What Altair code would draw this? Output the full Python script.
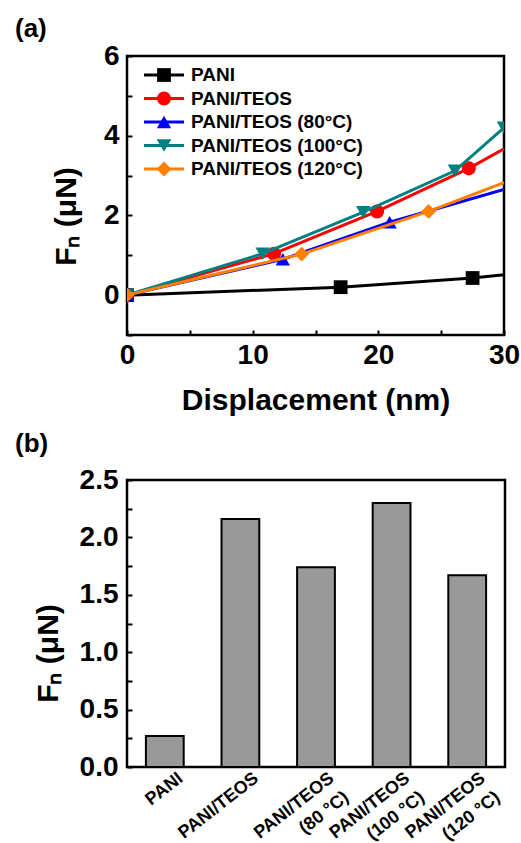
import altair as alt
import pandas as pd

FONT = "Liberation Sans"

# ---------------- data: panel (a) ----------------
series = ["PANI", "PANI/TEOS", "PANI/TEOS (80°C)", "PANI/TEOS (100°C)", "PANI/TEOS (120°C)"]
colors = ["#000000", "#FF0000", "#0000FF", "#008080", "#FF8000"]
shapes = ["square", "circle", "triangle-up", "triangle-down", "diamond"]
marker_sizes = [190, 220, 250, 250, 300]

pani_x = [0, 17.0, 27.5, 30]
pani_y = [0, 0.20, 0.43, 0.51]
pani_m = [True, True, True, False]

teos_x = [0, 11.7, 19.9, 27.2, 30]
teos_y = [0, 1.04, 2.10, 3.18, 3.67]
teos_m = [True, True, True, True, False]

t80_x = [0, 12.4, 20.9, 30]
t80_y = [0, 0.90, 1.83, 2.65]
t80_m = [True, True, True, False]

t100_x = [0, 10.8, 18.8, 26.1, 30]
t100_y = [0, 1.04, 2.08, 3.12, 4.20]
t100_m = [True, True, True, True, True]

t120_x = [0, 13.9, 24.0, 30]
t120_y = [0, 1.03, 2.10, 2.82]
t120_m = [True, True, True, False]

x_ticks = [0, 5, 10, 15, 20, 25, 30]
y_ticks = [-1, 0, 1, 2, 3, 4, 5, 6]

# ---------------- data: panel (b) ----------------
bar_labels = ["PANI", "PANI/TEOS", "PANI/TEOS\n(80 °C)", "PANI/TEOS\n(100 °C)", "PANI/TEOS\n(120 °C)"]
bar_values = [0.27, 2.16, 1.74, 2.30, 1.67]
bar_y_ticks = [0, 0.25, 0.5, 0.75, 1.0, 1.25, 1.5, 1.75, 2.0, 2.25, 2.5]

# ---------------- panel (a) ----------------
all_x = [pani_x, teos_x, t80_x, t100_x, t120_x]
all_y = [pani_y, teos_y, t80_y, t100_y, t120_y]
all_m = [pani_m, teos_m, t80_m, t100_m, t120_m]

color_enc = alt.Color("series:N", scale=alt.Scale(domain=series, range=colors), legend=None)
shape_enc = alt.Shape("series:N", scale=alt.Scale(domain=series, range=shapes), legend=None)
size_enc = alt.Size("series:O", scale=alt.Scale(domain=series, range=marker_sizes), legend=None)

x_enc = alt.X(
    "x:Q",
    scale=alt.Scale(domain=[0, 30], nice=False, zero=False),
    axis=alt.Axis(
        values=x_ticks,
        labelExpr="datum.value % 10 === 0 ? datum.label : ''",
        title="Displacement (nm)",
        offset=-5, tickSize=5, labelPadding=6, titlePadding=16,
        labelFontSize=28, titleFontSize=30, labelFlush=False,
    ),
)
y_enc = alt.Y(
    "y:Q",
    scale=alt.Scale(domain=[-1, 6], nice=False, zero=False),
    axis=alt.Axis(
        values=y_ticks,
        labelExpr="datum.value % 2 === 0 ? datum.label : ''",
        title="Fₙ (μN)",
        offset=-5, tickSize=5, labelPadding=8, labelFlush=False,
        labelFontSize=28, titleFontSize=30,
        titleX=-57, titleY=160, titleBaseline="alphabetic", titleAngle=270,
    ),
)

layers = []
for name, xs, ys, ms in zip(series, all_x, all_y, all_m):
    df = pd.DataFrame({"series": name, "x": xs, "y": ys, "marker": ms})
    line = alt.Chart(df).mark_line(strokeWidth=3, clip=True).encode(
        x=x_enc, y=y_enc, color=color_enc
    )
    pts = alt.Chart(df[df["marker"]]).mark_point(filled=True, opacity=1, clip=True).encode(
        x=x_enc, y=y_enc, color=color_enc, shape=shape_enc, size=size_enc
    )
    layers += [line, pts]
main = alt.layer(*layers)

leg = pd.DataFrame({"series": series})
leg_y = alt.Y(
    "series:N",
    scale=alt.Scale(type="point", domain=series, range=[19, 113], padding=0),
    axis=None,
)
leg_rule = alt.Chart(leg).mark_rule(strokeWidth=3).encode(
    x=alt.value(17), x2=alt.value(57), y=leg_y, color=color_enc
)
leg_pt = alt.Chart(leg).mark_point(filled=True, opacity=1).encode(
    x=alt.value(37), y=leg_y, color=color_enc, shape=shape_enc, size=size_enc
)
leg_txt = alt.Chart(leg).mark_text(
    align="left", baseline="middle", fontSize=19, fontWeight="bold", font=FONT, color="black"
).encode(x=alt.value(64), y=leg_y, text="series:N")
legend = alt.layer(leg_rule, leg_pt, leg_txt)

panel_a = alt.layer(main, legend).resolve_scale(y="independent").properties(
    width=377,
    height=279,
    title=alt.TitleParams(
        "(a)", anchor="start", frame="group", dx=-112, offset=0,
        fontSize=26, fontWeight="bold", font=FONT, color="black",
    ),
)

# ---------------- panel (b) ----------------
bdf = pd.DataFrame({"label": bar_labels, "value": bar_values})
panel_b = alt.Chart(bdf).mark_bar(color="#999999", stroke="#000000", strokeWidth=2).encode(
    x=alt.X(
        "label:N",
        sort=bar_labels,
        scale=alt.Scale(paddingInner=0.5, paddingOuter=0.25),
        axis=alt.Axis(
            title=None, ticks=False, labelAngle=-38, labelAlign="right", labelBaseline="middle",
            labelExpr="split(datum.label, '\\n')", labelFontSize=18, labelLineHeight=24,
            labelPadding=9, labelOffset=16,
        ),
    ),
    y=alt.Y(
        "value:Q",
        scale=alt.Scale(domain=[0, 2.5], nice=False),
        axis=alt.Axis(
            values=bar_y_ticks,
            format=".1f",
            labelExpr="datum.value % 0.5 === 0 ? datum.label : ''",
            title="Fₙ (μN)",
            offset=-5, tickSize=5, labelPadding=9, labelFlush=False,
            labelFontSize=28, titleFontSize=30,
            titleX=-75, titleY=173, titleBaseline="alphabetic", titleAngle=270,
        ),
    ),
).properties(
    width=378,
    height=287,
    title=alt.TitleParams(
        "(b)", anchor="start", frame="group", dx=-112, offset=9,
        fontSize=26, fontWeight="bold", font=FONT, color="black",
    ),
)

chart = alt.concat(panel_a, panel_b, columns=1, spacing=12).properties(
    padding={"left": 13, "top": 14, "right": 0, "bottom": 0}
).configure_view(
    stroke="black", strokeWidth=2.5
).configure_axis(
    labelFont=FONT, titleFont=FONT, labelFontWeight="bold", titleFontWeight="bold",
    labelColor="black", titleColor="black", tickColor="black", tickWidth=2,
    grid=False, domain=False,
)

chart.save("out.html", embed_options={"renderer": "svg", "actions": False})
